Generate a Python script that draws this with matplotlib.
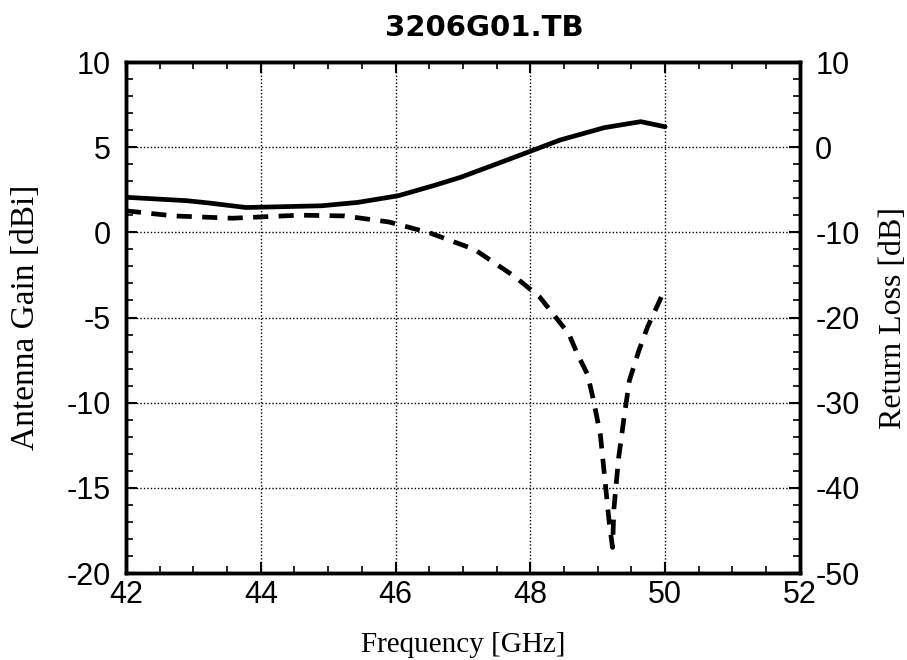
import matplotlib
matplotlib.use("Agg")
import matplotlib.pyplot as plt
from matplotlib.ticker import MultipleLocator

# Antenna gain (left axis, dBi)
gain_freq = [42.0, 42.9, 43.24, 43.78, 44.24, 44.9, 45.44, 46.04, 46.57, 46.97,
             47.44, 48.04, 48.44, 49.1, 49.64, 50.0]
gain_dbi = [2.06, 1.86, 1.72, 1.46, 1.5, 1.56, 1.76, 2.15, 2.75, 3.24,
            3.93, 4.82, 5.42, 6.15, 6.5, 6.2]

# Return loss (right axis, dB)
rl_freq = [42.0, 42.71, 43.58, 44.58, 45.24, 45.9, 46.5, 47.17, 47.77, 48.14,
           48.33, 48.57, 48.70, 48.85, 48.94, 49.04, 49.10, 49.17, 49.22,
           49.24, 49.31, 49.39, 49.47, 49.61, 49.74, 49.88, 50.0]
rl_db = [-7.47, -8.07, -8.34, -7.98, -8.07, -8.78, -10.04, -12.0, -15.2, -17.6,
         -19.5, -21.9, -24.3, -26.7, -29.8, -33.8, -38.5, -44.0, -47.0,
         -42.5, -36.5, -31.8, -27.4, -23.9, -21.1, -18.7, -16.6]

title = "3206G01.TB"
x_ticks = [42, 44, 46, 48, 50, 52]
left_ticks = [-20, -15, -10, -5, 0, 5, 10]
right_ticks = [-50, -40, -30, -20, -10, 0, 10]

sans = ["Liberation Sans", "DejaVu Sans"]
serif = ["Liberation Serif", "DejaVu Serif"]

fig = plt.figure(figsize=(9.07, 6.60), dpi=100)
ax = fig.add_axes([0.1389, 0.1318, 0.743, 0.7742])
ax2 = ax.twinx()

ax.plot(gain_freq, gain_dbi, color="black", lw=3.4, solid_capstyle="round")
ax2.plot(rl_freq, rl_db, color="black", lw=3.4, dashes=(3.2, 2.2))

ax.set_xlim(42, 52)
ax.set_ylim(-20, 10)
ax2.set_ylim(-50, 10)
ax.set_xticks(x_ticks)
ax.set_yticks(left_ticks)
ax2.set_yticks(right_ticks)
ax.xaxis.set_minor_locator(MultipleLocator(0.5))
ax.yaxis.set_minor_locator(MultipleLocator(1))
ax2.yaxis.set_minor_locator(MultipleLocator(2))

ax.grid(True, which="major", color="black", linestyle=(0, (1, 1.5)), lw=1.0)

ax.tick_params(axis="x", which="major", direction="in", length=8, width=1.5,
               top=True, labelsize=22, pad=5)
ax.tick_params(axis="y", which="major", direction="in", length=8, width=1.5,
               labelsize=22, pad=11)
ax.tick_params(axis="both", which="minor", direction="in", length=5, width=1.2, top=True)
ax.tick_params(axis="y", which="both", right=False)
ax2.tick_params(axis="y", which="major", direction="in", length=8, width=1.5,
                labelsize=22, pad=11)
ax2.tick_params(axis="y", which="minor", direction="in", length=5, width=1.2)

for a in (ax, ax2):
    for s in a.spines.values():
        s.set_linewidth(2.5)

ax.set_xticklabels([str(t) for t in x_ticks], family=sans, fontsize=22)
ax.set_yticklabels([str(t) for t in left_ticks], family=sans, fontsize=22)
ax2.set_yticklabels([str(t) for t in right_ticks], family=sans, fontsize=22)

ax.set_title(title, family=["DejaVu Sans"], fontsize=21, fontweight="bold",
             pad=19, x=0.531)
ax.set_xlabel("Frequency [GHz]", family=serif, fontsize=21, labelpad=16)
ax.set_ylabel("Antenna Gain [dBi]", family=serif, fontsize=24, labelpad=18)
ax2.set_ylabel("Return Loss [dB]", family=serif, fontsize=23, labelpad=14)

fig.savefig("out.png", dpi=100)
